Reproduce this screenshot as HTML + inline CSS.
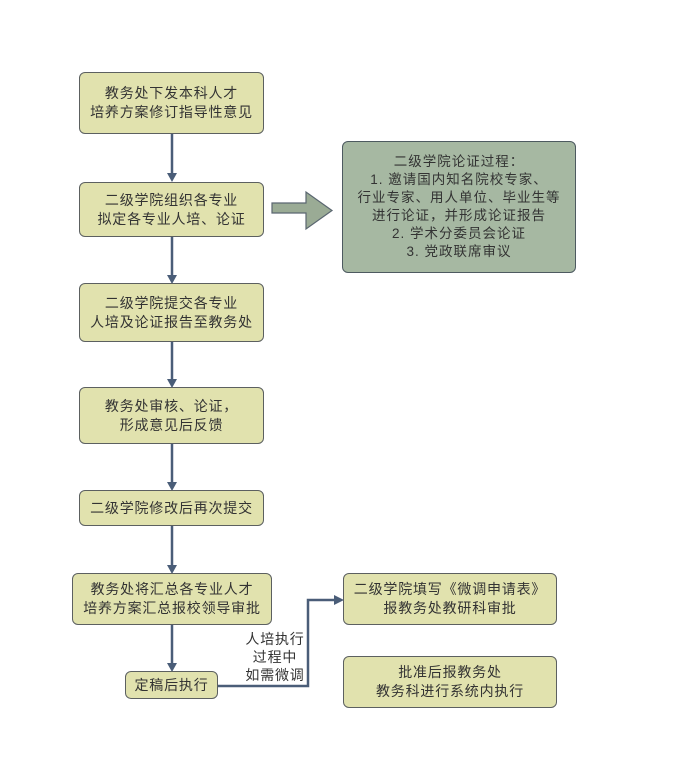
<!DOCTYPE html>
<html><head><meta charset="utf-8">
<style>
html,body{margin:0;padding:0;background:#fff;}
body{width:673px;height:768px;position:relative;overflow:hidden;font-family:"Liberation Sans","Noto Sans CJK SC",sans-serif;}
.b{position:absolute;box-sizing:border-box;background:#e1e2ae;border:1.5px solid #5c6060;border-radius:6px;display:flex;align-items:center;justify-content:center;text-align:center;font-size:14px;line-height:19px;color:#333;letter-spacing:0.8px;}
.g{background:#a6b8a2;border-color:#4d5a60;line-height:18px;font-size:13.5px;letter-spacing:1px;}
svg{position:absolute;left:0;top:0;}
.lbl{position:absolute;font-size:14px;line-height:18px;color:#333;text-align:center;letter-spacing:0.8px;}
</style></head><body>
<svg width="673" height="768">
<g stroke="#4a5d78" stroke-width="2.5" fill="none">
<line x1="172" y1="134" x2="172" y2="174"/>
<line x1="172" y1="237" x2="172" y2="275"/>
<line x1="172" y1="342" x2="172" y2="379"/>
<line x1="172" y1="444" x2="172" y2="482"/>
<line x1="172" y1="526" x2="172" y2="565"/>
<line x1="172" y1="625" x2="172" y2="663"/>
<polyline points="218,686 308,686 308,600 335,600"/>
</g>
<g fill="#4a5d78">
<polygon points="167,173 177,173 172,182"/>
<polygon points="167,275 177,275 172,284"/>
<polygon points="167,379 177,379 172,388"/>
<polygon points="167,482 177,482 172,491"/>
<polygon points="167,565 177,565 172,574"/>
<polygon points="167,663 177,663 172,672"/>
<polygon points="334,595 334,605 344,600"/>
</g>
<polygon points="272,203 306,203 306,192 332,210.5 306,229 306,213 272,213" fill="#9aab95" stroke="#5a6670" stroke-width="1.2"/>
</svg>

<div class="b" style="left:79px;top:72px;width:185px;height:62px;">教务处下发本科人才<br>培养方案修订指导性意见</div>
<div class="b" style="left:79px;top:182px;width:185px;height:55px;">二级学院组织各专业<br>拟定各专业人培、论证</div>
<div class="b g" style="left:342px;top:141px;width:234px;height:132px;">二级学院论证过程：<br>1. 邀请国内知名院校专家、<br>行业专家、用人单位、毕业生等<br>进行论证，并形成论证报告<br>2. 学术分委员会论证<br>3. 党政联席审议</div>
<div class="b" style="left:79px;top:283px;width:185px;height:59px;">二级学院提交各专业<br>人培及论证报告至教务处</div>
<div class="b" style="left:79px;top:387px;width:185px;height:57px;">教务处审核、论证，<br>形成意见后反馈</div>
<div class="b" style="left:79px;top:490px;width:185px;height:36px;">二级学院修改后再次提交</div>
<div class="b" style="left:72px;top:573px;width:200px;height:52px;">教务处将汇总各专业人才<br>培养方案汇总报校领导审批</div>
<div class="b" style="left:125px;top:671px;width:93px;height:28px;">定稿后执行</div>
<div class="b" style="left:343px;top:573px;width:214px;height:52px;">二级学院填写《微调申请表》<br>报教务处教研科审批</div>
<div class="b" style="left:343px;top:656px;width:214px;height:52px;">批准后报教务处<br>教务科进行系统内执行</div>
<div class="lbl" style="left:240px;top:630px;width:70px;">人培执行<br>过程中<br>如需微调</div>
</body></html>
